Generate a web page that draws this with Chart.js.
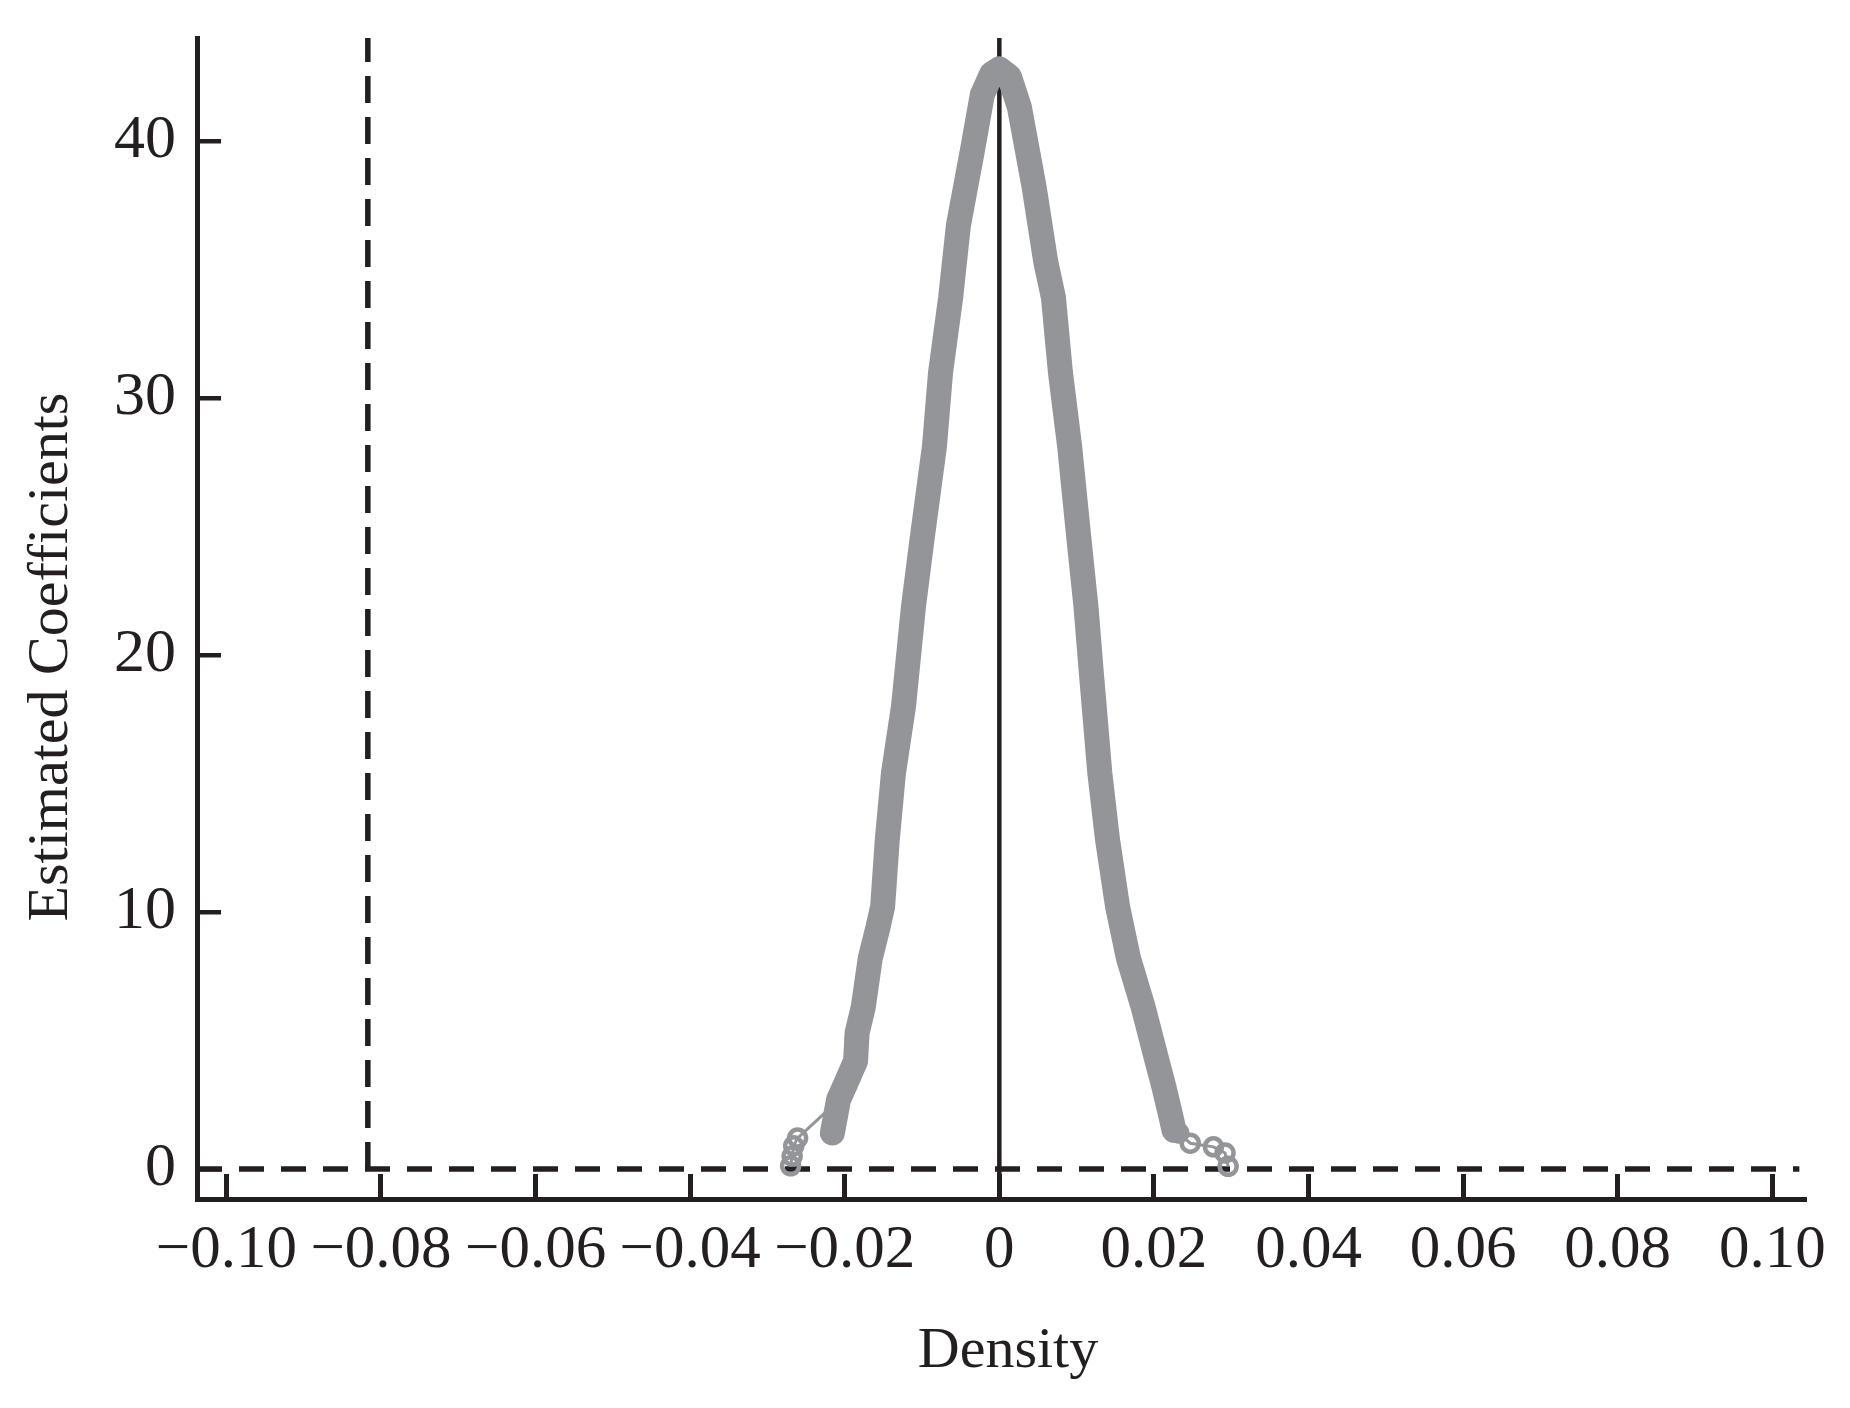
<!DOCTYPE html>
<html>
<head>
<meta charset="utf-8">
<script src="https://cdn.jsdelivr.net/npm/chart.js@4.4.1/dist/chart.umd.min.js"></script>
<style>
  html, body { margin: 0; padding: 0; background: #fff; }
  canvas { display: block; }
</style>
</head>
<body>
<canvas id="chart" width="1850" height="1408" style="width:1850px;height:1408px"></canvas>
<script>
// tick marks and labels
const xTickValues = [-0.10, -0.08, -0.06, -0.04, -0.02, 0, 0.02, 0.04, 0.06, 0.08, 0.10];
const xTickLabels = ['\u22120.10', '\u22120.08', '\u22120.06', '\u22120.04', '\u22120.02', '0', '0.02', '0.04', '0.06', '0.08', '0.10'];
const yTickValues = [0, 10, 20, 30, 40];
const yTickLabels = ['0', '10', '20', '30', '40'];

// axis limits
const xLimits = [-0.1038, 0.1041];
const yLimits = [-1.17, 44.0];

// dense part of the curve (left tail -> peak -> right tail)
const bandX = [-0.0216, -0.0208, -0.0199, -0.0186, -0.0184, -0.0176, -0.0167, -0.0157, -0.0151, -0.0145,
  -0.0137, -0.0124, -0.0111, -0.0100, -0.0084, -0.0076, -0.0063, -0.0053, -0.0035, -0.0022,
  -0.0010, 0.0000, 0.0013, 0.0026, 0.0045, 0.0060, 0.0070, 0.0079, 0.0091, 0.0103,
  0.0112, 0.0119, 0.0130, 0.0140, 0.0153, 0.0167, 0.0186, 0.0204, 0.0212, 0.0220, 0.0226];
const bandY = [1.4, 2.7, 3.3, 4.2, 5.3, 6.3, 8.2, 9.4, 10.2, 12.8,
  15.4, 18.0, 21.9, 24.5, 28.1, 31.0, 33.9, 36.7, 39.6, 41.8,
  42.6, 42.8, 42.5, 41.3, 38.2, 35.3, 33.9, 31.0, 28.1, 24.5,
  21.9, 19.3, 15.4, 12.8, 10.2, 8.2, 6.3, 4.2, 3.3, 2.3, 1.5];

// sparse tails, drawn as hollow markers
const leftTailX = [-0.0225, -0.0261, -0.0266, -0.0268, -0.0270];
const leftTailY = [2.2, 1.2, 0.9, 0.5, 0.12];
const rightTailX = [0.0226, 0.0232, 0.0247, 0.0277, 0.0292, 0.0296];
const rightTailY = [1.5, 1.4, 1.0, 0.86, 0.62, 0.1];

// reference lines
const cutoffX = -0.0817;
const zeroX = 0;
const zeroY = 0;

const xTitle = 'Density';
const yTitle = 'Estimated Coefficients';

const ink = '#231f20';
const grey = '#939598';
const serif = '"Liberation Serif", "Times New Roman", serif';

const pts = (xs, ys) => xs.map((x, i) => ({ x: x, y: ys[i] }));

const axisTitles = {
  id: 'axisTitles',
  afterDraw(chart) {
    const ctx = chart.ctx;
    ctx.save();
    ctx.fillStyle = ink;
    ctx.font = '58px ' + serif;
    ctx.textAlign = 'center';
    ctx.textBaseline = 'alphabetic';
    ctx.fillText(xTitle, 1008, 1367);
    ctx.translate(67, 657);
    ctx.rotate(-Math.PI / 2);
    ctx.fillText(yTitle, 0, 0);
    ctx.restore();
  }
};

const tailStyle = {
  showLine: true,
  borderColor: grey,
  borderWidth: 3,
  pointStyle: 'circle',
  pointRadius: c => c.dataIndex === 0 ? 0 : 8.5,
  pointBorderWidth: 4.5,
  pointBorderColor: grey,
  pointBackgroundColor: 'rgba(255,255,255,0)',
  order: 0
};

new Chart(document.getElementById('chart'), {
  type: 'scatter',
  data: {
    datasets: [
      {
        data: pts(bandX, bandY),
        showLine: true,
        borderColor: grey,
        borderWidth: 25,
        borderCapStyle: 'round',
        borderJoinStyle: 'round',
        pointRadius: 0,
        tension: 0,
        order: 0
      },
      Object.assign({ data: pts(leftTailX, leftTailY) }, tailStyle),
      Object.assign({ data: pts(rightTailX, rightTailY) }, tailStyle),
      {
        data: [{ x: xLimits[0], y: zeroY }, { x: 0.1035, y: zeroY }],
        showLine: true,
        borderColor: ink,
        borderWidth: 5.5,
        borderDash: [25, 17],
        pointRadius: 0,
        order: 1
      },
      {
        data: [{ x: cutoffX, y: zeroY }, { x: cutoffX, y: yLimits[1] }],
        showLine: true,
        borderColor: ink,
        borderWidth: 5.5,
        borderDash: [27, 14],
        pointRadius: 0,
        order: 1
      },
      {
        data: [{ x: zeroX, y: yLimits[0] }, { x: zeroX, y: yLimits[1] }],
        showLine: true,
        borderColor: ink,
        borderWidth: 4.5,
        pointRadius: 0,
        order: 1
      }
    ]
  },
  options: {
    responsive: false,
    devicePixelRatio: 1,
    animation: false,
    events: [],
    layout: { padding: { left: 0, top: 38, right: 46, bottom: 0 } },
    plugins: {
      legend: { display: false },
      tooltip: { enabled: false }
    },
    scales: {
      x: {
        type: 'linear',
        position: 'bottom',
        min: xLimits[0],
        max: xLimits[1],
        afterBuildTicks: s => { s.ticks = xTickValues.map(v => ({ value: v })); },
        afterFit: s => { s.height = 209; s.paddingLeft = 0; s.paddingRight = 0; },
        border: { display: true, color: ink, width: 5 },
        grid: {
          drawOnChartArea: false,
          drawTicks: true,
          tickLength: -25,
          tickWidth: 5,
          tickColor: ink,
          color: ink,
          lineWidth: 5
        },
        ticks: {
          autoSkip: false,
          maxRotation: 0,
          minRotation: 0,
          padding: 40,
          color: ink,
          font: { family: serif, size: 61 },
          callback: (v, i) => xTickLabels[i]
        }
      },
      y: {
        type: 'linear',
        position: 'left',
        min: yLimits[0],
        max: yLimits[1],
        afterBuildTicks: s => { s.ticks = yTickValues.map(v => ({ value: v })); },
        afterFit: s => { s.width = 197; s.paddingTop = 0; s.paddingBottom = 0; },
        border: { display: true, color: ink, width: 5 },
        grid: {
          drawOnChartArea: false,
          drawTicks: true,
          tickLength: -24,
          tickWidth: 4.5,
          tickColor: ink,
          color: ink,
          lineWidth: 4.5
        },
        ticks: {
          padding: 45,
          color: ink,
          font: { family: serif, size: 62 },
          callback: (v, i) => yTickLabels[i]
        }
      }
    }
  },
  plugins: [axisTitles]
});
</script>
</body>
</html>
